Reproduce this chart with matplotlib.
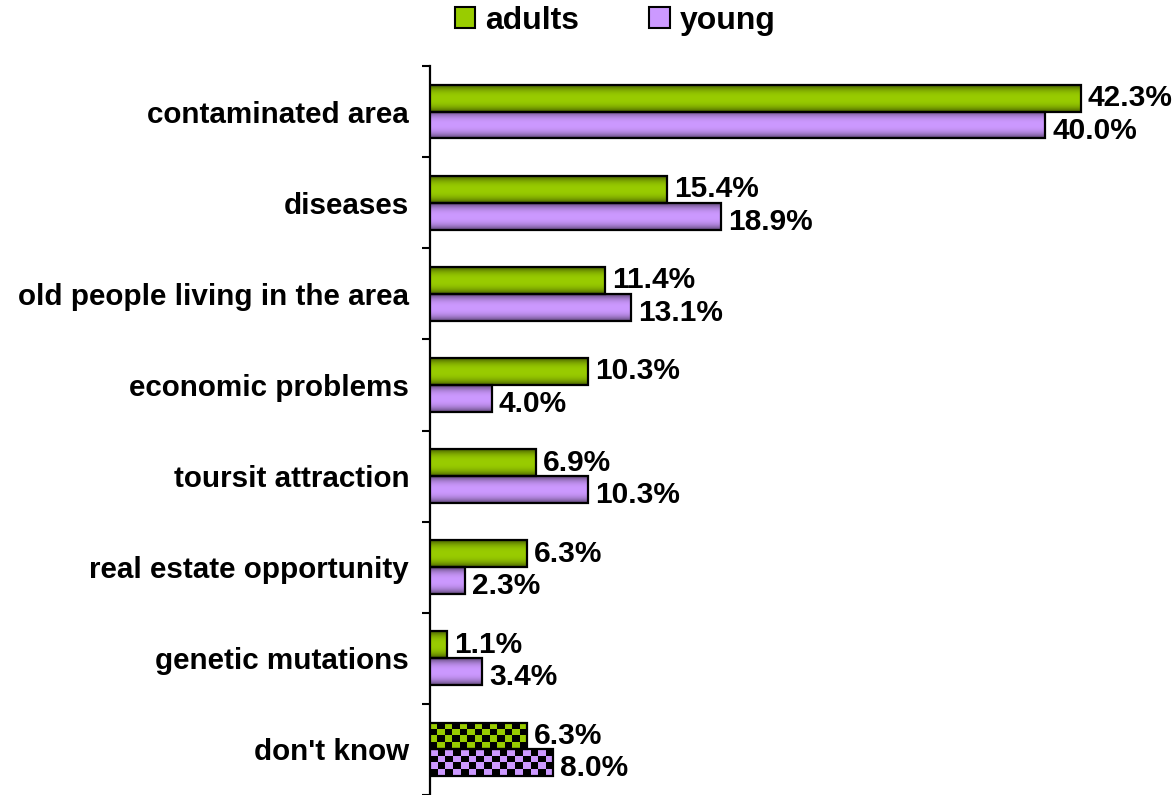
import numpy as np
import matplotlib
matplotlib.use('Agg')
import matplotlib.pyplot as plt
from matplotlib.colors import to_rgb
from matplotlib.patches import Patch

plt.rcParams['font.family'] = ['Liberation Sans', 'DejaVu Sans']

categories = ["contaminated area", "diseases", "old people living in the area",
              "economic problems", "toursit attraction", "real estate opportunity",
              "genetic mutations", "don't know"]
adults = [42.3, 15.4, 11.4, 10.3, 6.9, 6.3, 1.1, 6.3]
young = [40.0, 18.9, 13.1, 4.0, 10.3, 2.3, 3.4, 8.0]
series_names = ["adults", "young"]
checkered = [False, False, False, False, False, False, False, True]

green = '#99cc00'
purple = '#cc99ff'

W, H = 1176, 795
fig = plt.figure(figsize=(W / 100, H / 100), dpi=100)
ax_left, ax_top = 430, 66
ax = fig.add_axes([ax_left / W, 0, 1 - ax_left / W, 1 - ax_top / H])
XMAX = 48.5
px_per_x = (W - ax_left) / XMAX
px_per_y = (H - ax_top) / len(categories)

y = np.arange(len(categories))
h = 0.295


def gradient_img(color, n=64):
    t = np.linspace(0, 1, n)
    f = 0.45 + 0.55 * (1 - np.abs(2 * t - 1) ** 2.5)
    base = np.array(to_rgb(color))
    return (base[None, :] * f[:, None])[:, None, :]


def checker_img(color, w_px, h_px, cell=7.5):
    nc = max(1, int(round(w_px / cell)))
    nr = max(1, int(round(h_px / cell)))
    ii, jj = np.meshgrid(np.arange(nr), np.arange(nc), indexing='ij')
    mask = (ii + jj) % 2 == 0
    base = np.array(to_rgb(color))
    img = np.zeros((nr, nc, 3))
    img[mask] = base
    return img


for vals, off, col, dy in [(adults, -h / 2, green, 0), (young, h / 2, purple, -4)]:
    bars = ax.barh(y + off, vals, height=h, facecolor='none', edgecolor='black',
                   linewidth=1.6, zorder=4)
    for i, b in enumerate(bars):
        x0, y0 = b.get_x(), b.get_y()
        bw, bh = b.get_width(), b.get_height()
        if checkered[i]:
            img = checker_img(col, bw * px_per_x, bh * px_per_y)
        else:
            img = gradient_img(col)
        im = ax.imshow(img, extent=(x0, x0 + bw, y0 + bh, y0), aspect='auto',
                       interpolation='nearest' if checkered[i] else 'bilinear',
                       zorder=3)
        im.set_clip_path(b)
        ax.annotate(f"{vals[i]:.1f}%", xy=(x0 + bw, y0 + bh / 2),
                    xytext=(5, dy), textcoords='offset points',
                    ha='left', va='center', fontsize=21.5, fontweight='bold')

ax.set_xlim(0, XMAX)
ax.set_ylim(len(categories) - 0.5, -0.5)

ax.set_yticks(y)
ax.set_yticklabels(categories, fontsize=21.3, fontweight='bold')
ax.tick_params(axis='y', which='major', length=0, pad=15)
ax.set_yticks(np.arange(-0.5, len(categories) + 0.5, 1), minor=True)
ax.tick_params(axis='y', which='minor', length=6, width=1.5, color='black')
ax.set_xticks([])
for s in ['top', 'right', 'bottom']:
    ax.spines[s].set_visible(False)
ax.spines['left'].set_linewidth(1.6)

handles = [Patch(facecolor=green, edgecolor='black', linewidth=1.5),
           Patch(facecolor=purple, edgecolor='black', linewidth=1.5)]
fig.legend(handles, series_names, loc='center', bbox_to_anchor=(0.523, 0.974),
           ncol=2, frameon=False, prop={'size': 23, 'weight': 'bold'},
           handlelength=0.65, handleheight=0.65, handletextpad=0.3,
           columnspacing=2.2)

fig.savefig('out.png', dpi=100)
